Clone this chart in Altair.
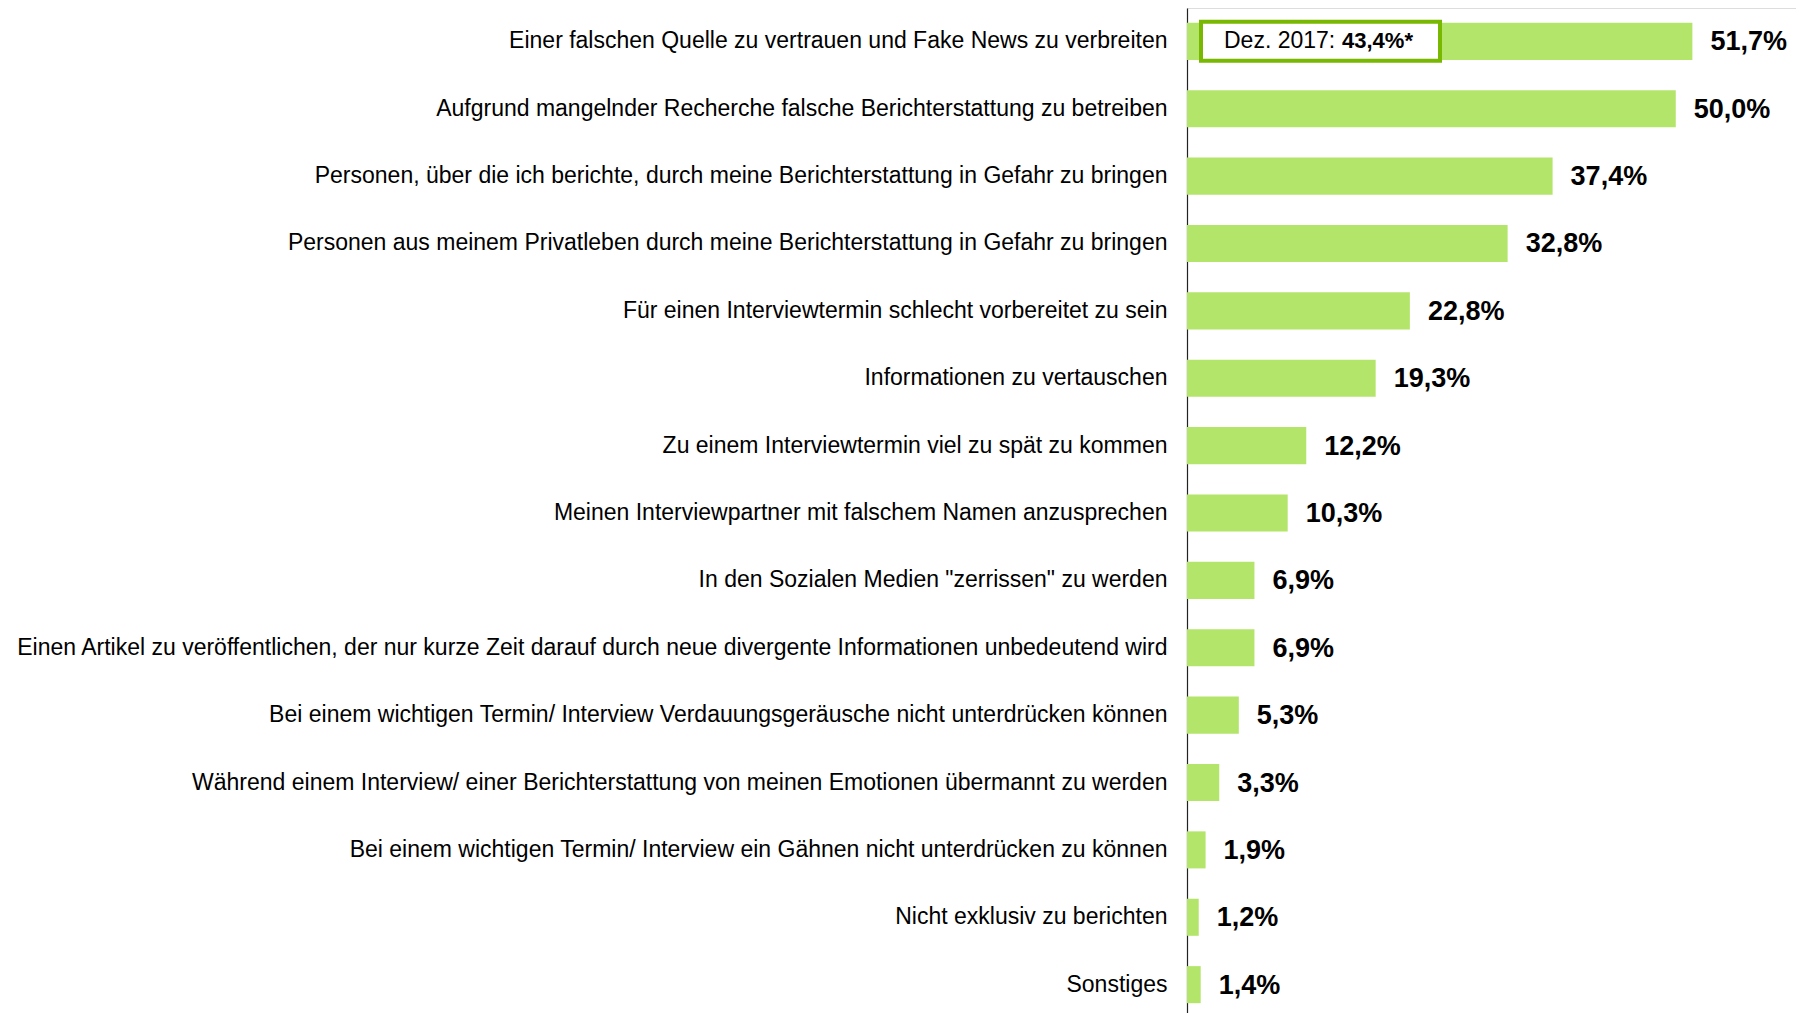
import altair as alt
import pandas as pd

categories = [
    "Einer falschen Quelle zu vertrauen und Fake News zu verbreiten",
    "Aufgrund mangelnder Recherche falsche Berichterstattung zu betreiben",
    "Personen, über die ich berichte, durch meine Berichterstattung in Gefahr zu bringen",
    "Personen aus meinem Privatleben durch meine Berichterstattung in Gefahr zu bringen",
    "Für einen Interviewtermin schlecht vorbereitet zu sein",
    "Informationen zu vertauschen",
    "Zu einem Interviewtermin viel zu spät zu kommen",
    "Meinen Interviewpartner mit falschem Namen anzusprechen",
    "In den Sozialen Medien \"zerrissen\" zu werden",
    "Einen Artikel zu veröffentlichen, der nur kurze Zeit darauf durch neue divergente Informationen unbedeutend wird",
    "Bei einem wichtigen Termin/ Interview Verdauungsgeräusche nicht unterdrücken können",
    "Während einem Interview/ einer Berichterstattung von meinen Emotionen übermannt zu werden",
    "Bei einem wichtigen Termin/ Interview ein Gähnen nicht unterdrücken zu können",
    "Nicht exklusiv zu berichten",
    "Sonstiges",
]
values = [51.7, 50.0, 37.4, 32.8, 22.8, 19.3, 12.2, 10.3, 6.9, 6.9, 5.3, 3.3, 1.9, 1.2, 1.4]

annot_category = categories[0]
annot_prefix = "Dez. 2017:"
annot_value = "43,4%*"

FONT = "Liberation Sans"
BAR = "#b3e56b"
BOX = "#78b800"
TXT = "#000000"

df = pd.DataFrame({
    "cat": categories,
    "val": values,
    "label": [f"{v:.1f}%".replace(".", ",") for v in values],
})
ann = pd.DataFrame({"cat": [annot_category], "prefix": [annot_prefix], "value": [annot_value]})

y_enc = alt.Y(
    "cat:N",
    sort=categories,
    scale=alt.Scale(paddingInner=0.45, paddingOuter=0.22),
    axis=alt.Axis(
        title=None, ticks=False, grid=False, domain=True, domainColor="#222222",
        domainWidth=1.2, labelFont=FONT, labelFontSize=23, labelColor=TXT,
        labelPadding=20, labelLimit=1300,
    ),
)
x_scale = alt.Scale(domain=[0, 62.3], nice=False, zero=True)

base = alt.Chart(df)
bars = base.mark_bar(color=BAR).encode(
    x=alt.X("val:Q", scale=x_scale, axis=None),
    y=y_enc,
)
labels = base.mark_text(
    align="left", baseline="middle", dx=18, dy=1, font=FONT, fontSize=27,
    fontWeight="bold", color=TXT,
).encode(x=alt.X("val:Q", scale=x_scale), y=alt.Y("cat:N", sort=categories), text="label:N")

ab = alt.Chart(ann)
box = ab.mark_bar(size=39, fill="white", stroke=BOX, strokeWidth=4).encode(
    x=alt.value(14), x2=alt.value(253), y=alt.Y("cat:N", sort=categories)
)
t1 = ab.mark_text(align="left", baseline="middle", font=FONT, fontSize=23, color=TXT).encode(
    x=alt.value(37), y=alt.Y("cat:N", sort=categories), text="prefix:N"
)
t2 = ab.mark_text(align="left", baseline="middle", font=FONT, fontSize=22, fontWeight="bold", color=TXT).encode(
    x=alt.value(155), y=alt.Y("cat:N", sort=categories), text="value:N"
)

chart = alt.layer(bars, labels, box, t1, t2).properties(
    width=609,
    height=1010,
    autosize=alt.AutoSizeParams(type="none"),
    padding={"left": 1179, "top": 0, "right": 0, "bottom": 0},
).configure_view(stroke=None).configure(background="white")

chart.save("out.html", embed_options={"renderer": "svg", "actions": False})
